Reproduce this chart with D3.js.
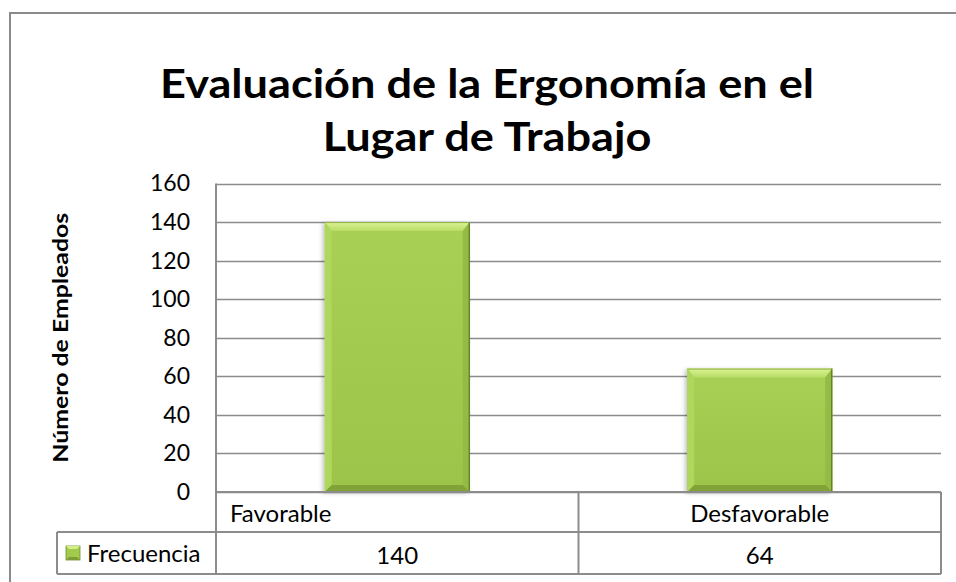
<!doctype html>
<html>
<head>
<meta charset="UTF-8">
<title>Evaluación de la Ergonomía</title>
<script src="https://d3js.org/d3.v7.min.js"></script>
<style>
  body { margin: 0; background: #fff; }
  text { font-family: Lato, "Open Sans", sans-serif; fill: #000; }
</style>
</head>
<body>
<script>
// data
var categories = ["Favorable", "Desfavorable"];
var values = [140, 64];
var seriesName = "Frecuencia";
var yTicks = [0, 20, 40, 60, 80, 100, 120, 140, 160];
var titleLines = ["Evaluación de la Ergonomía en el", "Lugar de Trabajo"];
var yTitle = "Número de Empleados";

var W = 956, H = 582;
var plotLeft = 216, plotRight = 941, plotTop = 183.5, plotBase = 492;
var row1 = 532, row2 = 574, legendLeft = 57;
var grid = "#8c8c8c";

var svg = d3.select("body").append("svg").attr("width", W).attr("height", H);

var defs = svg.append("defs");
var f = defs.append("filter").attr("id", "shadow").attr("x", "-20%").attr("y", "-10%").attr("width", "140%").attr("height", "120%");
f.append("feDropShadow").attr("dx", -2).attr("dy", 1).attr("stdDeviation", 2).attr("flood-color", "#000").attr("flood-opacity", 0.25);
var g1 = defs.append("linearGradient").attr("id", "topBevel").attr("x1", 0).attr("y1", 0).attr("x2", 0).attr("y2", 1);
g1.append("stop").attr("offset", "0%").attr("stop-color", "#dcf394");
g1.append("stop").attr("offset", "100%").attr("stop-color", "#b7dc66");
var g2 = defs.append("linearGradient").attr("id", "body").attr("x1", 0).attr("y1", 0).attr("x2", 0).attr("y2", 1);
g2.append("stop").attr("offset", "0%").attr("stop-color", "#a8d054");
g2.append("stop").attr("offset", "100%").attr("stop-color", "#9cc44a");

// outer chart border
svg.append("rect").attr("x", 10).attr("y", 13).attr("width", 960).attr("height", 600)
  .attr("fill", "none").attr("stroke", "#8a8a8a").attr("stroke-width", 2);

// squeeze/stretch a text node to a given width
function fit(sel, width) {
  sel.attr("textLength", width).attr("lengthAdjust", "spacingAndGlyphs");
}

// title (Lato bold, squeezed a little to get Calibri-like proportions)
var title = svg.append("g");
titleLines.forEach(function(t, i) {
  title.append("text").attr("x", 487).attr("y", 98 + i * 53)
    .attr("text-anchor", "middle").attr("font-weight", "bold")
    .attr("font-size", 41).text(t);
});
var ratio = 654 / title.select("text").node().getComputedTextLength();
title.selectAll("text").each(function() {
  fit(d3.select(this), this.getComputedTextLength() * ratio);
});

var y = d3.scaleLinear().domain([0, 160]).range([plotBase, plotTop]);
var x = d3.scaleBand().domain(categories).range([plotLeft, plotRight]).paddingInner(0.6).paddingOuter(0.3);

// gridlines
svg.append("g").selectAll("line").data(yTicks).join("line")
  .attr("x1", plotLeft).attr("x2", plotRight)
  .attr("y1", function(d) { return Math.round(y(d)) + 0.5; })
  .attr("y2", function(d) { return Math.round(y(d)) + 0.5; })
  .attr("stroke", grid).attr("stroke-width", 1.6);

// y axis labels
var yAxis = d3.axisLeft(y).tickValues(yTicks).tickSize(0).tickPadding(26);
var ya = svg.append("g").attr("transform", "translate(" + plotLeft + ",0)").call(yAxis);
ya.select(".domain").remove();
ya.selectAll("text").attr("font-size", 23).attr("font-family", "Lato, sans-serif").attr("fill", "#000");

// y title
var yt = svg.append("text").attr("transform", "translate(68," + ((plotTop + plotBase) / 2) + ") rotate(-90)")
  .attr("text-anchor", "middle").attr("font-weight", "bold").attr("font-size", 21).text(yTitle);
fit(yt, 250);

// bars with bevel
var bv = 7;
var bars = svg.append("g").selectAll("g").data(values).join("g")
  .attr("transform", function(d, i) { return "translate(" + x(categories[i]) + "," + y(d) + ")"; });
bars.each(function(d) {
  var g = d3.select(this);
  var w = x.bandwidth(), h = plotBase - y(d);
  g.append("rect").attr("width", w).attr("height", h).attr("fill", "url(#body)").attr("filter", "url(#shadow)");
  g.append("polygon").attr("points", [[0,0],[w,0],[w-bv,bv+2],[bv,bv+2]].join(" ")).attr("fill", "url(#topBevel)");
  g.append("polygon").attr("points", [[0,0],[bv,bv+2],[bv,h-bv],[0,h]].join(" ")).attr("fill", "#afd65d");
  g.append("polygon").attr("points", [[w,0],[w-bv,bv+2],[w-bv,h-bv],[w,h]].join(" ")).attr("fill", "#94bb44");
  g.append("polygon").attr("points", [[0,h],[bv,h-bv],[w-bv,h-bv],[w,h]].join(" ")).attr("fill", "#80a236");
  g.append("line").attr("x1", w - 0.5).attr("x2", w - 0.5).attr("y1", 0).attr("y2", h).attr("stroke", "#5d7a22").attr("stroke-width", 1.2);
  g.append("line").attr("x1", 0).attr("x2", w).attr("y1", 0.5).attr("y2", 0.5).attr("stroke", "#8fae48").attr("stroke-width", 1);
});

// data table lines
var tl = svg.append("g").attr("stroke", grid).attr("stroke-width", 2);
tl.append("line").attr("x1", plotLeft).attr("x2", plotLeft).attr("y1", plotTop).attr("y2", row2);
tl.append("line").attr("x1", plotLeft).attr("x2", plotRight).attr("y1", plotBase).attr("y2", plotBase);
tl.append("line").attr("x1", legendLeft).attr("x2", plotRight).attr("y1", row1).attr("y2", row1);
tl.append("line").attr("x1", legendLeft).attr("x2", plotRight).attr("y1", row2).attr("y2", row2);
tl.append("line").attr("x1", legendLeft).attr("x2", legendLeft).attr("y1", row1).attr("y2", row2);
var mid = x(categories[1]) - x.step() * 0.3;
tl.append("line").attr("x1", mid).attr("x2", mid).attr("y1", plotBase).attr("y2", row2);
tl.append("line").attr("x1", plotRight).attr("x2", plotRight).attr("y1", plotBase).attr("y2", row2);

// category row
svg.append("text").attr("x", plotLeft + 14).attr("y", 522).attr("font-size", 24).text(categories[0]);
svg.append("text").attr("x", (mid + plotRight) / 2).attr("y", 522).attr("text-anchor", "middle").attr("font-size", 24).text(categories[1]);

// values row
var cols = [(plotLeft + mid) / 2, (mid + plotRight) / 2];
svg.append("g").selectAll("text").data(values).join("text")
  .attr("x", function(d, i) { return cols[i]; }).attr("y", 564)
  .attr("text-anchor", "middle").attr("font-size", 24).text(function(d) { return d; });

// legend key
var key = svg.append("g").attr("transform", "translate(66,546)");
key.append("rect").attr("width", 14).attr("height", 14).attr("fill", "#a2cb4e").attr("stroke", "#6f8f2a").attr("stroke-width", 0.8);
key.append("polygon").attr("points", "0,0 14,0 11,3 3,3").attr("fill", "#d4ef8a");
key.append("polygon").attr("points", "0,14 3,11 11,11 14,14").attr("fill", "#7d9c34");
svg.append("text").attr("x", 87).attr("y", 562).attr("font-size", 24).text(seriesName);
</script>
</body>
</html>
